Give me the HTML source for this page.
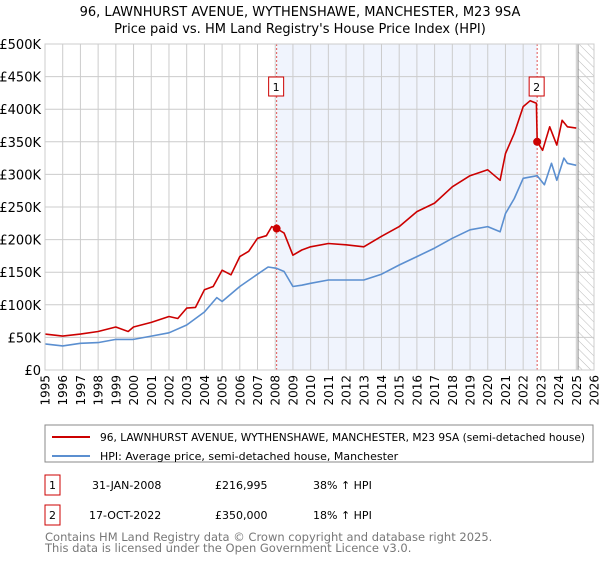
<!DOCTYPE html>
<html><head><meta charset="utf-8"><style>
body{margin:0;background:#fff;font-family:"DejaVu Sans","Liberation Sans",sans-serif;}
svg text{font-family:"DejaVu Sans","Liberation Sans",sans-serif;}
</style></head><body>
<svg width="600" height="560" viewBox="0 0 600 560" xmlns="http://www.w3.org/2000/svg">
<defs><pattern id="hatch" width="6" height="6" patternUnits="userSpaceOnUse" patternTransform="rotate(-45)"><line x1="0" y1="0" x2="0" y2="6" stroke="#bbb" stroke-width="1"/></pattern></defs>
<text x="300" y="16" text-anchor="middle" font-size="13">96, LAWNHURST AVENUE, WYTHENSHAWE, MANCHESTER, M23 9SA</text>
<text x="300" y="33" text-anchor="middle" font-size="13">Price paid vs. HM Land Registry's House Price Index (HPI)</text>
<g id="plot"></g>
<rect x="45" y="425" width="548" height="37" fill="#fff" stroke="#888"/>
<line x1="52" y1="437" x2="90" y2="437" stroke="#cc0000" stroke-width="2"/>
<text x="100" y="441" font-size="11" textLength="485" lengthAdjust="spacingAndGlyphs">96, LAWNHURST AVENUE, WYTHENSHAWE, MANCHESTER, M23 9SA (semi-detached house)</text>
<line x1="52" y1="456" x2="90" y2="456" stroke="#5b8fd0" stroke-width="2"/>
<text x="100" y="460" font-size="11">HPI: Average price, semi-detached house, Manchester</text>
<g>
<rect x="45" y="475" width="15" height="20" fill="#fff" stroke="#cc0000"/><text x="52.5" y="489" text-anchor="middle" font-size="11">1</text>
<text x="92" y="489" font-size="11">31-JAN-2008</text><text x="215" y="489" font-size="11">£216,995</text><text x="313" y="489" font-size="11">38% ↑ HPI</text></g>
<g>
<rect x="45" y="505" width="15" height="20" fill="#fff" stroke="#cc0000"/><text x="52.5" y="519" text-anchor="middle" font-size="11">2</text>
<text x="89" y="519" font-size="11">17-OCT-2022</text><text x="215" y="519" font-size="11">£350,000</text><text x="313" y="519" font-size="11">18% ↑ HPI</text></g>
<text x="45" y="541" font-size="11.5" fill="#777">Contains HM Land Registry data © Crown copyright and database right 2025.</text>
<text x="45" y="552" font-size="11.5" fill="#777">This data is licensed under the Open Government Licence v3.0.</text>
</svg>
<script>
const yTicks=[0,50000,100000,150000,200000,250000,300000,350000,400000,450000,500000];
const yTickLabels=["£0","£50K","£100K","£150K","£200K","£250K","£300K","£350K","£400K","£450K","£500K"];
const xYears=[1995,1996,1997,1998,1999,2000,2001,2002,2003,2004,2005,2006,2007,2008,2009,2010,2011,2012,2013,2014,2015,2016,2017,2018,2019,2020,2021,2022,2023,2024,2025,2026];
const hpiT=[1995,1996,1997,1998,1999,2000,2001,2002,2003,2004,2004.7,2005,2006,2007,2007.6,2008.08,2008.5,2009,2009.5,2010,2011,2012,2013,2014,2015,2016,2017,2018,2019,2020,2020.7,2021,2021.5,2022,2022.79,2023.2,2023.6,2023.9,2024.3,2024.5,2025];
const hpiV=[40,37,41,42,47,47,52,57,69,89,111,105,128,147,158,156,151,128,130,133,138,138,138,147,161,174,187,202,215,220,212,240,263,294,298,284,317,291,325,317,314];
const redT=[1995,1996,1997,1998,1999,1999.7,2000,2001,2002,2002.5,2003,2003.5,2004,2004.5,2005,2005.5,2006,2006.5,2007,2007.5,2007.8,2008.08,2008.5,2009,2009.5,2010,2011,2012,2013,2014,2015,2016,2017,2018,2019,2020,2020.7,2021,2021.5,2022,2022.4,2022.75,2022.79,2023.1,2023.5,2023.9,2024.2,2024.5,2025];
const redV=[55,52,55,59,66,59,66,73,82,79,95,96,123,128,153,146,174,182,202,206,220,217,210,176,184,189,194,192,189,205,220,243,256,281,298,307,291,332,363,404,413,409,350,337,373,345,383,373,371];
const saleT=[2008.08,2022.79];
const saleV=[216995,350000];
const saleLabels=["1","2"];
const X0=45,X1=594,Y0=370,Y1=44;
const x=t=>X0+(t-1995)/(2026-1995)*(X1-X0);
const y=v=>Y0-v/500000*(Y0-Y1);
const NS="http://www.w3.org/2000/svg";
const g=document.getElementById('plot');
function mk(tag,attrs,parent){const e=document.createElementNS(NS,tag);for(const k in attrs)e.setAttribute(k,attrs[k]);(parent||g).appendChild(e);return e;}
let e;
e=mk('rect',{x:x(saleT[0]),y:Y1,width:x(saleT[1])-x(saleT[0]),height:Y0-Y1,fill:'#f0f4fd'});


e=mk('rect',{x:x(2025.1),y:Y1,width:X1-x(2025.1),height:Y0-Y1,fill:'url(#hatch)'});


xYears.forEach(t=>{e=mk('line',{x1:x(t),x2:x(t),y1:Y1,y2:Y0,stroke:'#cccccc'});


const lx=x(t)+4.5,ly=375;
e=mk('text',{x:lx,y:ly,'text-anchor':'end','font-size':12,transform:'rotate(-90 '+lx+' '+ly+')'});e.textContent=t;

});
yTicks.forEach((v,i)=>{e=mk('line',{x1:X0,x2:X1,y1:y(v),y2:y(v),stroke:'#cccccc'});


e=mk('text',{x:X0-4,y:y(v)+5,'text-anchor':'end','font-size':13});e.textContent=yTickLabels[i];

});
e=mk('line',{x1:x(2025.1),x2:x(2025.1),y1:Y1,y2:Y0,stroke:'#888'});


saleT.forEach((t,i)=>{e=mk('line',{x1:x(t),x2:x(t),y1:Y1,y2:Y0,stroke:'#e05555','stroke-dasharray':'2,2'});

});
function path(T,V,col,name){const d=T.map((t,i)=>(i?'L':'M')+x(t).toFixed(1)+','+y(V[i]*1000).toFixed(1)).join('');
e=mk('path',{d:d,fill:'none',stroke:col,'stroke-width':1.6,'stroke-linejoin':'round'});

}
path(hpiT,hpiV,'#5b8fd0','hpi-line');
path(redT,redV,'#cc0000','property-price-line');
saleT.forEach((t,i)=>{e=mk('circle',{cx:x(t),cy:y(saleV[i]),r:4,fill:'#cc0000'});


e=mk('rect',{x:x(t)-8,y:77,width:15,height:19,fill:'#fff',stroke:'#cc0000'});


e=mk('text',{x:x(t)-0.5,y:91,'text-anchor':'middle','font-size':11});e.textContent=saleLabels[i];

});
e=mk('rect',{x:X0,y:Y1,width:X1-X0,height:Y0-Y1,fill:'none',stroke:'#cccccc'});


</script>
</body></html>
